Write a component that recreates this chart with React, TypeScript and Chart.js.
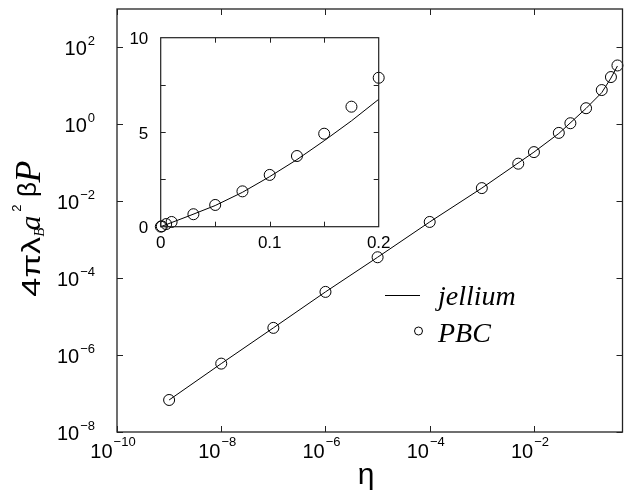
import React, { useEffect, useRef } from 'react';
import { Chart, registerables } from 'chart.js';

Chart.register(...registerables);

// ---------- data ----------
const pbcEta = [1e-9, 1e-8, 1e-7, 1e-6, 1e-5, 1e-4, 1e-3, 0.005, 0.01, 0.03, 0.05, 0.1, 0.2, 0.3, 0.4];
const pbcP = [6.8e-8, 6.0e-7, 5.1e-6, 4.4e-5, 3.5e-4, 2.9e-3, 2.2e-2, 0.095, 0.19, 0.6, 1.07, 2.63, 7.8, 17, 34];

const jelliumEta = [1e-9, 1e-8, 1e-7, 1e-6, 1e-5, 1e-4, 1e-3, 0.01, 0.03, 0.1, 0.2, 0.3, 0.4];
const jelliumP = [6.8e-8, 6.0e-7, 5.1e-6, 4.4e-5, 3.5e-4, 2.9e-3, 2.2e-2, 0.19, 0.58, 2.6, 6.7, 16, 33];

const insetPbcEta = [0.0001, 0.001, 0.005, 0.01, 0.03, 0.05, 0.075, 0.1, 0.125, 0.15, 0.175, 0.2];
const insetPbcP = [0.003, 0.022, 0.14, 0.25, 0.66, 1.15, 1.87, 2.74, 3.74, 4.92, 6.35, 7.88];

const insetJelliumEta = [0, 0.01, 0.025, 0.05, 0.075, 0.1, 0.125, 0.15, 0.175, 0.2];
const insetJelliumP = [0, 0.22, 0.55, 1.12, 1.82, 2.65, 3.55, 4.55, 5.6, 6.74];

const mainXTickExps = [-10, -8, -6, -4, -2];
const mainYTickExps = [-8, -6, -4, -2, 0, 2];
const insetXTicks = [0.05, 0.1, 0.15];
const insetYTicks = [2.5, 5, 7.5];
const insetXLabels = ['0', '0.1', '0.2'];
const insetYLabels = ['0', '5', '10'];
const seriesNames = ['jellium', 'PBC'];
const xTitle = 'η';

const SANS = '"Liberation Sans", Arial, Helvetica, sans-serif';
const SERIF = '"Liberation Serif", "Times New Roman", serif';

function drawPow(ctx: CanvasRenderingContext2D, exp: number, x: number, y: number, align: 'center' | 'right', supDy: number) {
  const base = '10';
  const sup = exp < 0 ? '\u2212' + Math.abs(exp) : String(exp);
  ctx.font = `20px ${SANS}`;
  const wb = ctx.measureText(base).width;
  ctx.font = `13px ${SANS}`;
  const ws = ctx.measureText(sup).width;
  const total = wb + ws + 1;
  const x0 = align === 'center' ? x - total / 2 : x - total;
  ctx.textAlign = 'left';
  ctx.textBaseline = 'alphabetic';
  ctx.font = `20px ${SANS}`;
  ctx.fillText(base, x0, y);
  ctx.font = `13px ${SANS}`;
  ctx.fillText(sup, x0 + wb + 1, y + supDy);
}

function drawYTitle(ctx: CanvasRenderingContext2D) {
  const segs: { t: string; font: string; start: number; base: number; len?: number }[] = [
    { t: '4πλ', font: `25px ${SANS}`, start: 296.7, base: 39.5, len: 60 },
    { t: 'B', font: `italic 15px ${SERIF}`, start: 236.7, base: 43.5 },
    { t: 'a', font: `italic 30px ${SERIF}`, start: 230.5, base: 39.5 },
    { t: '2', font: `13px ${SANS}`, start: 211.7, base: 20.5 },
    { t: 'β', font: `26px ${SANS}`, start: 197, base: 35.5 },
    { t: 'P', font: `italic 36px ${SERIF}`, start: 182.5, base: 39.5 },
  ];
  ctx.fillStyle = '#000';
  ctx.textAlign = 'left';
  ctx.textBaseline = 'alphabetic';
  for (const s of segs) {
    ctx.save();
    ctx.translate(s.base, s.start);
    ctx.rotate(-Math.PI / 2);
    ctx.font = s.font;
    if (s.len) {
      const w = ctx.measureText(s.t).width;
      ctx.scale(s.len / w, 1);
    }
    ctx.fillText(s.t, 0, 0);
    ctx.restore();
  }
}

const mainDecor = {
  id: 'mainDecor',
  afterDraw(chart: any) {
    const { ctx, chartArea: a, scales } = chart;
    const xs = scales.x;
    const ys = scales.y;
    ctx.save();
    ctx.strokeStyle = '#222';
    ctx.lineWidth = 1.3;
    ctx.strokeRect(a.left, a.top, a.right - a.left, a.bottom - a.top);
    ctx.lineWidth = 1;
    ctx.beginPath();
    const tl = 6;
    for (const e of mainXTickExps) {
      const px = Math.round(xs.getPixelForValue(Math.pow(10, e))) + 0.5;
      ctx.moveTo(px, a.bottom);
      ctx.lineTo(px, a.bottom - tl);
      ctx.moveTo(px, a.top);
      ctx.lineTo(px, a.top + tl);
    }
    for (const e of mainYTickExps) {
      const py = Math.round(ys.getPixelForValue(Math.pow(10, e))) + 0.5;
      ctx.moveTo(a.left, py);
      ctx.lineTo(a.left + tl, py);
      ctx.moveTo(a.right, py);
      ctx.lineTo(a.right - tl, py);
    }
    ctx.stroke();

    ctx.fillStyle = '#000';
    for (const e of mainXTickExps) {
      const px = xs.getPixelForValue(Math.pow(10, e));
      drawPow(ctx, e, px - 4, a.bottom + 26, 'center', -12);
    }
    for (const e of mainYTickExps) {
      const py = ys.getPixelForValue(Math.pow(10, e));
      drawPow(ctx, e, 95, py + 8, 'right', -10.5);
    }

    // x title
    ctx.font = `30px ${SANS}`;
    ctx.textAlign = 'center';
    ctx.textBaseline = 'alphabetic';
    ctx.fillText(xTitle, 366, 484);

    // y title
    drawYTitle(ctx);

    // legend
    const names = chart.data.datasets.map((d: any) => d.label);
    ctx.strokeStyle = '#000';
    ctx.lineWidth = 1;
    ctx.beginPath();
    ctx.moveTo(385, 295.5);
    ctx.lineTo(420, 295.5);
    ctx.stroke();
    ctx.beginPath();
    ctx.arc(418.5, 331, 4, 0, Math.PI * 2);
    ctx.stroke();
    ctx.font = `italic 28px ${SERIF}`;
    ctx.textAlign = 'left';
    ctx.fillText(names[0], 438, 305);
    ctx.fillText(names[1], 438, 342);
    ctx.restore();
  },
};

const insetDecor = {
  id: 'insetDecor',
  afterDraw(chart: any) {
    const { ctx, chartArea: a, scales } = chart;
    const xs = scales.x;
    const ys = scales.y;
    ctx.save();
    ctx.strokeStyle = '#222';
    ctx.lineWidth = 1.2;
    ctx.strokeRect(a.left, a.top, a.right - a.left, a.bottom - a.top);
    ctx.lineWidth = 1;
    ctx.beginPath();
    const tl = 5;
    for (const v of insetXTicks) {
      const px = Math.round(xs.getPixelForValue(v)) + 0.5;
      ctx.moveTo(px, a.bottom);
      ctx.lineTo(px, a.bottom - tl);
      ctx.moveTo(px, a.top);
      ctx.lineTo(px, a.top + tl);
    }
    for (const v of insetYTicks) {
      const py = Math.round(ys.getPixelForValue(v)) + 0.5;
      ctx.moveTo(a.left, py);
      ctx.lineTo(a.left + tl, py);
      ctx.moveTo(a.right, py);
      ctx.lineTo(a.right - tl, py);
    }
    ctx.stroke();
    ctx.fillStyle = '#000';
    ctx.font = `17px ${SANS}`;
    ctx.textBaseline = 'alphabetic';
    ctx.textAlign = 'center';
    for (const l of insetXLabels) {
      ctx.fillText(l, xs.getPixelForValue(parseFloat(l)), a.bottom + 21.5);
    }
    ctx.textAlign = 'right';
    for (const l of insetYLabels) {
      ctx.fillText(l, a.left - 12.4, ys.getPixelForValue(parseFloat(l)) + 6.5);
    }
    ctx.restore();
  },
};

export default function App() {
  const mainRef = useRef<HTMLCanvasElement>(null);
  const insetRef = useRef<HTMLCanvasElement>(null);

  useEffect(() => {
    const circleDs = (label: string, xs: number[], ys: number[]) => ({
      label,
      data: xs.map((x, i) => ({ x, y: ys[i] })),
      showLine: false,
      pointRadius: 5.5,
      pointBorderWidth: 1,
      pointBorderColor: '#000',
      pointBackgroundColor: 'rgba(0,0,0,0)',
      borderColor: '#000',
      backgroundColor: 'rgba(0,0,0,0)',
      clip: false as any,
    });
    const lineDs = (label: string, xs: number[], ys: number[]) => ({
      label,
      data: xs.map((x, i) => ({ x, y: ys[i] })),
      showLine: true,
      borderColor: '#000',
      borderWidth: 1,
      pointRadius: 0,
      fill: false,
      tension: 0,
      clip: false as any,
    });

    const main = new Chart(mainRef.current!, {
      type: 'scatter',
      data: {
        datasets: [
          lineDs(seriesNames[0], jelliumEta, jelliumP) as any,
          circleDs(seriesNames[1], pbcEta, pbcP) as any,
        ],
      },
      options: {
        animation: false,
        responsive: true,
        maintainAspectRatio: false,
        layout: { padding: { top: 9, right: 4, left: 0, bottom: 0 } },
        plugins: { legend: { display: false }, tooltip: { enabled: false } },
        scales: {
          x: {
            type: 'logarithmic',
            min: 1e-10,
            max: 0.5,
            ticks: { display: false },
            grid: { display: false },
            border: { display: false },
            afterFit: (s: any) => { s.height = 61; },
          } as any,
          y: {
            type: 'logarithmic',
            min: 1e-8,
            max: 1e3,
            ticks: { display: false },
            grid: { display: false },
            border: { display: false },
            afterFit: (s: any) => { s.width = 117; },
          } as any,
        },
      },
      plugins: [mainDecor],
    });

    const inset = new Chart(insetRef.current!, {
      type: 'scatter',
      data: {
        datasets: [
          lineDs(seriesNames[0], insetJelliumEta, insetJelliumP) as any,
          circleDs(seriesNames[1], insetPbcEta, insetPbcP) as any,
        ],
      },
      options: {
        animation: false,
        responsive: true,
        maintainAspectRatio: false,
        layout: { padding: { top: 12.7, right: 16.3, left: 0, bottom: 0 } },
        plugins: { legend: { display: false }, tooltip: { enabled: false } },
        scales: {
          x: {
            type: 'linear',
            min: 0,
            max: 0.2,
            ticks: { display: false },
            grid: { display: false },
            border: { display: false },
            afterFit: (s: any) => { s.height = 28.3; },
          } as any,
          y: {
            type: 'linear',
            min: 0,
            max: 10,
            ticks: { display: false },
            grid: { display: false },
            border: { display: false },
            afterFit: (s: any) => { s.width = 50.7; },
          } as any,
        },
      },
      plugins: [insetDecor],
    });

    return () => {
      main.destroy();
      inset.destroy();
    };
  }, []);

  return (
    <div style={{ position: 'absolute', left: 0, top: 0, width: 629, height: 493, background: '#fff' }}>
      <div style={{ position: 'absolute', left: 0, top: 0, width: 629, height: 493 }}>
        <canvas ref={mainRef} />
      </div>
      <div style={{ position: 'absolute', left: 110, top: 25, width: 285, height: 230 }}>
        <canvas ref={insetRef} />
      </div>
    </div>
  );
}
